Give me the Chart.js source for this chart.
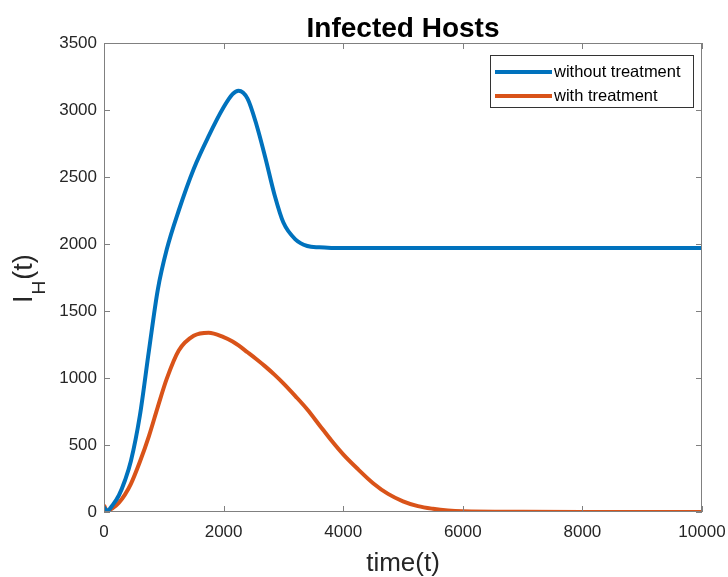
<!DOCTYPE html>
<html>
<head>
<meta charset="utf-8">
<script src="https://cdn.jsdelivr.net/npm/chart.js@4"></script>
<style>
  body { margin: 0; background: #fff; }
  canvas { display: block; }
</style>
</head>
<body>
<canvas id="hostChart" width="728" height="577"></canvas>
<script>
// czas symulacji
var timeValues = [0, 50, 150, 250, 350, 450, 600, 750, 900, 1050, 1250, 1500, 1750, 2000, 2150, 2250, 2400, 2550, 2700, 2850, 3000, 3200, 3400, 3600, 3800, 4000, 4250, 4500, 4750, 5000, 5250, 5500, 5750, 6000, 7000, 8000, 9000, 10000];

// I_H(t) bez leczenia
var withoutTreatment = [35, 8, 55, 125, 235, 380, 720, 1200, 1660, 1960, 2250, 2560, 2805, 3020, 3118, 3144, 3085, 2890, 2640, 2370, 2160, 2035, 1985, 1975, 1971, 1970, 1970, 1970, 1970, 1970, 1970, 1970, 1970, 1970, 1970, 1970, 1970, 1970];

// I_H(t) z leczeniem
var withTreatment = [50, 8, 30, 70, 130, 210, 375, 565, 785, 995, 1205, 1315, 1338, 1305, 1272, 1243, 1192, 1140, 1085, 1025, 960, 865, 765, 650, 535, 430, 318, 215, 135, 80, 44, 24, 11, 5, 1, 0, 0, 0];

var seriesLabels = ['without treatment', 'with treatment'];
var xTicks = [0, 2000, 4000, 6000, 8000, 10000];
var yTicks = [0, 500, 1000, 1500, 2000, 2500, 3000, 3500];

var chartTitle = 'Infected Hosts';
var xTitle = 'time(t)';

var blue = '#0072BD';
var orange = '#D95319';
var axisColor = '#808080';
var textColor = '#262626';
var fontName = '"Liberation Sans", Arial, Helvetica, sans-serif';

function toPoints(values) {
    var pts = [];
    for (var i = 0; i < timeValues.length; i++) {
        pts.push({ x: timeValues[i], y: values[i] });
    }
    return pts;
}

// ramka, znaczniki, tytuly i legenda w stylu MATLAB
var matlabPlugin = {
    id: 'matlabStyle',
    afterDraw: function (chart) {
        var ctx = chart.ctx;
        var area = chart.chartArea;
        var xs = chart.scales.x;
        var ys = chart.scales.y;
        var tick = 6;

        ctx.save();
        ctx.strokeStyle = axisColor;
        ctx.lineWidth = 1;
        ctx.beginPath();
        ctx.rect(area.left + 0.5, area.top + 0.5, area.right - area.left - 1, area.bottom - area.top - 1);
        ctx.stroke();

        ctx.beginPath();
        xTicks.forEach(function (v) {
            var px = Math.round(xs.getPixelForValue(v)) + 0.5;
            ctx.moveTo(px, area.bottom);
            ctx.lineTo(px, area.bottom - tick);
            ctx.moveTo(px, area.top);
            ctx.lineTo(px, area.top + tick);
        });
        yTicks.forEach(function (v) {
            var py = Math.round(ys.getPixelForValue(v)) + 0.5;
            ctx.moveTo(area.left, py);
            ctx.lineTo(area.left + tick, py);
            ctx.moveTo(area.right, py);
            ctx.lineTo(area.right - tick, py);
        });
        ctx.stroke();

        // tytul
        var cx = (area.left + area.right) / 2;
        ctx.fillStyle = '#000';
        ctx.textAlign = 'center';
        ctx.textBaseline = 'alphabetic';
        ctx.font = 'bold 28px ' + fontName;
        ctx.fillText(chartTitle, cx, 37);

        // opis osi x
        ctx.fillStyle = textColor;
        ctx.font = '26px ' + fontName;
        ctx.fillText(xTitle, cx, 571);

        // opis osi y: I z indeksem H
        ctx.save();
        ctx.translate(32, 303);
        ctx.rotate(-Math.PI / 2);
        ctx.textAlign = 'left';
        ctx.font = '27px ' + fontName;
        ctx.fillText('I', 0, 0);
        var w1 = ctx.measureText('I').width;
        ctx.font = '19px ' + fontName;
        ctx.fillText('H', w1 + 1, 13);
        var w2 = ctx.measureText('H').width;
        ctx.font = '27px ' + fontName;
        ctx.fillText('(t)', w1 + w2 + 2, 0);
        ctx.restore();

        // legenda
        var lx = 490, ly = 55, lw = 203, lh = 52;
        ctx.fillStyle = '#fff';
        ctx.fillRect(lx, ly, lw, lh);
        ctx.strokeStyle = '#333';
        ctx.lineWidth = 1;
        ctx.strokeRect(lx + 0.5, ly + 0.5, lw, lh);
        ctx.font = '16.5px ' + fontName;
        ctx.textAlign = 'left';
        ctx.textBaseline = 'middle';
        chart.data.datasets.forEach(function (ds, i) {
            var yy = ly + 17 + i * 24;
            ctx.strokeStyle = ds.borderColor;
            ctx.lineWidth = 4;
            ctx.beginPath();
            ctx.moveTo(lx + 5, yy);
            ctx.lineTo(lx + 62, yy);
            ctx.stroke();
            ctx.fillStyle = '#000';
            ctx.fillText(ds.label, lx + 64, yy);
        });
        ctx.restore();
    }
};

var hostChart = new Chart(document.getElementById('hostChart').getContext('2d'), {
    type: 'line',
    data: {
        datasets: [{
            label: seriesLabels[0],
            data: toPoints(withoutTreatment),
            borderColor: blue,
            borderWidth: 4,
            pointRadius: 0,
            cubicInterpolationMode: 'monotone',
            fill: false
        }, {
            label: seriesLabels[1],
            data: toPoints(withTreatment),
            borderColor: orange,
            borderWidth: 4,
            pointRadius: 0,
            cubicInterpolationMode: 'monotone',
            fill: false
        }]
    },
    options: {
        responsive: false,
        animation: false,
        devicePixelRatio: 1,
        layout: {
            padding: { top: 43, right: 26, left: 0, bottom: 0 }
        },
        plugins: {
            legend: { display: false },
            title: { display: false },
            tooltip: { enabled: false }
        },
        scales: {
            x: {
                type: 'linear',
                min: 0,
                max: 10000,
                afterFit: function (scale) {
                    scale.height = 65;
                    scale.paddingLeft = 0;
                    scale.paddingRight = 0;
                },
                afterBuildTicks: function (scale) {
                    scale.ticks = xTicks.map(function (v) { return { value: v }; });
                },
                grid: { display: false, drawTicks: false },
                border: { display: false },
                ticks: {
                    padding: 10,
                    maxRotation: 0,
                    autoSkip: false,
                    color: textColor,
                    font: { family: fontName, size: 17 },
                    callback: function (v) { return String(v); }
                }
            },
            y: {
                type: 'linear',
                min: 0,
                max: 3500,
                afterFit: function (scale) {
                    scale.width = 104;
                    scale.paddingTop = 0;
                    scale.paddingBottom = 0;
                },
                afterBuildTicks: function (scale) {
                    scale.ticks = yTicks.map(function (v) { return { value: v }; });
                },
                grid: { display: false, drawTicks: false },
                border: { display: false },
                ticks: {
                    padding: 7,
                    autoSkip: false,
                    color: textColor,
                    font: { family: fontName, size: 17 },
                    callback: function (v) { return String(v); }
                }
            }
        }
    },
    plugins: [matlabPlugin]
});
</script>
</body>
</html>
